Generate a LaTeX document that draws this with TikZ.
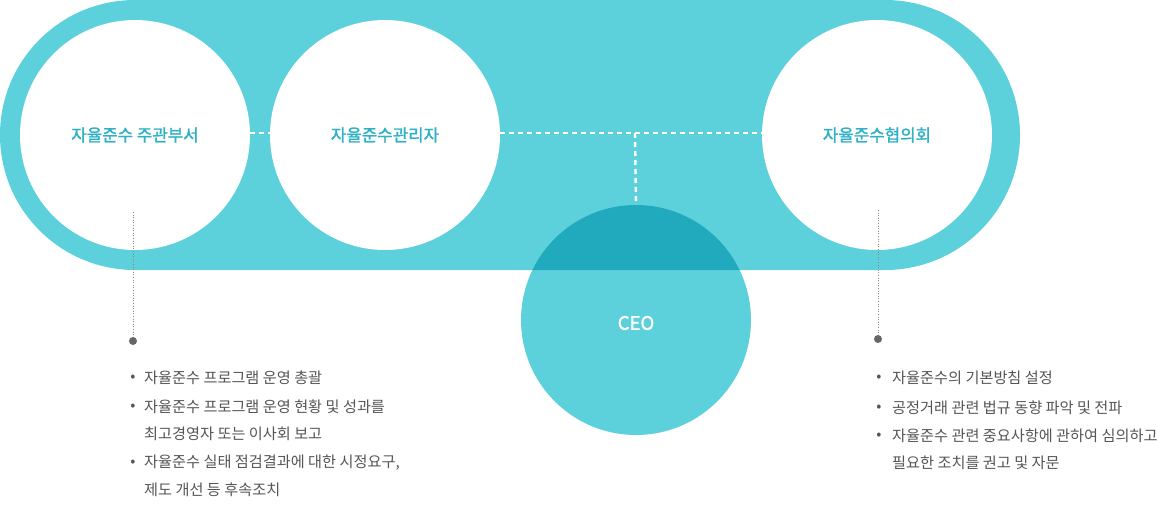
\documentclass[tikz,border=0pt]{standalone}
\usepackage{fontspec}
\setmainfont{Noto Sans CJK KR}
\newfontfamily\krb{Noto Sans CJK KR}[FakeBold=1.5]
\definecolor{bandc}{HTML}{5CD1DC}
\definecolor{overc}{HTML}{21AABE}
\definecolor{titc}{HTML}{2FB0C4}
\definecolor{txtc}{HTML}{555555}
\definecolor{dotc}{HTML}{8A8A8A}
\begin{document}
\begin{tikzpicture}[x=1pt,y=-1pt,
  wcirc/.style={circle,fill=white,minimum size=230pt,inner sep=0pt},
  title/.style={font=\krb\fontsize{16.8}{20}\selectfont,text=titc},
  wdash/.style={draw=white,line width=2.4pt,dash pattern=on 5pt off 4pt},
  gdot/.style={draw=dotc,line width=0.8pt,dash pattern=on 1pt off 1.6pt},
  enddot/.style={circle,fill=txtc!90,minimum size=8pt,inner sep=0pt},
  item/.style={anchor=west,font=\fontsize{15.2}{18}\selectfont,text=txtc,inner sep=0pt},
  bul/.style={font=\fontsize{15}{16}\selectfont,text=txtc,inner sep=0pt}]
\useasboundingbox (0,0) rectangle (1157,504);
% band
\fill[bandc,rounded corners=135pt] (0,0) rectangle (1020,270);
% CEO circle
\node[circle,fill=bandc,minimum size=230pt,inner sep=0pt] (ceo) at (636,320) {};
\begin{scope}
  \clip[rounded corners=135pt] (0,0) rectangle (1020,270);
  \fill[overc] (636,320) circle (115);
\end{scope}
\node[font=\krb\fontsize{18.5}{20}\selectfont,text=white] at (636,323) {CEO};
% white circles
\node[wcirc] (c1) at (135,135) {};
\node[wcirc] (c2) at (385,135) {};
\node[wcirc] (c3) at (877,135) {};
\node[title] at (c1) {자율준수 주관부서};
\node[title] at (c2) {자율준수관리자};
\node[title] at (c3) {자율준수협의회};
% dashed connectors
\coordinate (j) at (635,133);
\draw[wdash] (c1.east |- j) -- (c2.west |- j);
\draw[wdash] (c2.east |- j) -- (c3.west |- j);
\draw[wdash] (j) -- (ceo.north);
% dotted leaders
\coordinate (l1) at (133,212);
\coordinate (l2) at (878,210);
\node[enddot] (d1) at (133,341) {};
\node[enddot] (d2) at (878,339) {};
\draw[gdot] (l1) -- (d1);
\draw[gdot] (l2) -- (d2);
% left list
\node[bul] (b1) at (133,378) {•};
\node[item] (t1) at (144,378) {자율준수 프로그램 운영 총괄};
\node[bul] (b2) at (133,407) {•};
\node[item] (t2) at (144,407) {자율준수 프로그램 운영 현황 및 성과를};
\node[item] (t3) at (144,434) {최고경영자 또는 이사회 보고};
\node[bul] (b3) at (133,463) {•};
\node[item] (t4) at (144,463) {자율준수 실태 점검결과에 대한 시정요구,};
\node[item] (t5) at (144,490) {제도 개선 등 후속조치};
% right list
\node[bul] (b4) at (879,378) {•};
\node[item] (r1) at (892,378) {자율준수의 기본방침 설정};
\node[bul] (b5) at (879,408) {•};
\node[item] (r2) at (892,408) {공정거래 관련 법규 동향 파악 및 전파};
\node[bul] (b6) at (879,436) {•};
\node[item] (r3) at (892,436) {자율준수 관련 중요사항에 관하여 심의하고};
\node[item] (r4) at (892,463) {필요한 조치를 권고 및 자문};
\end{tikzpicture}
\end{document}
